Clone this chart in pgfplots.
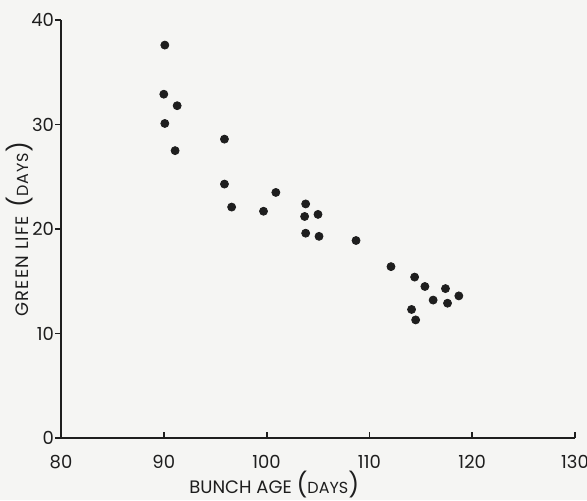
\documentclass[border=0pt]{standalone}
\usepackage{fontspec}
\setmainfont{Poppins}
\usepackage{pgfplots}
\pgfplotsset{compat=1.18}

\definecolor{paper}{HTML}{F5F5F3}
\definecolor{ink}{HTML}{1E1E1E}

\begin{document}
\begin{tikzpicture}
  % page = 587x500 px at 0.5pt per px, axis box origin at (0,0)
  \useasboundingbox[fill=paper] (-30.5pt,-31pt) rectangle (263pt,219pt);
  \begin{axis}[
    scale only axis,
    width=257pt, height=209pt,
    xmin=80, xmax=130, ymin=0, ymax=40,
    axis lines=left,
    axis line style={-, line width=0.9pt, ink},
    xtick={80,90,...,130},
    ytick={0,10,...,40},
    tick align=inside,
    major tick length=3pt,
    tick style={line width=0.9pt, ink},
    ytick style={xshift=-3pt},
    /pgf/number format/assume math mode=true,
    ticklabel style={font=\small, text=ink},
    xticklabel style={yshift=-5pt},
    xlabel={BUNCH AGE {\large(}{\footnotesize DAYS}{\large)}},
    ylabel={\addfontfeature{LetterSpace=6}GREEN LIFE\, {\large(}{\footnotesize DAYS}{\large)}},
    label style={font=\small, text=ink},
    xlabel style={at={(axis description cs:0.415,-0.112)}, anchor=center},
    ylabel style={at={(axis description cs:-0.08,0.5)}, anchor=center},
  ]
    \addplot[only marks, mark=*, mark size=2pt, draw=ink, fill=ink] coordinates {
      (90.1,37.6) (90.0,32.9) (91.3,31.8) (90.1,30.1) (91.1,27.5)
      (95.9,28.6) (95.9,24.3) (96.6,22.1) (99.7,21.7) (100.9,23.5)
      (103.8,22.4) (103.7,21.2) (105.0,21.4) (103.8,19.6) (105.1,19.3)
      (108.7,18.9) (112.1,16.4) (114.4,15.4) (115.4,14.5) (117.4,14.3)
      (118.7,13.6) (116.2,13.2) (117.6,12.9) (114.1,12.3) (114.5,11.3)
    };
  \end{axis}
\end{tikzpicture}
\end{document}
